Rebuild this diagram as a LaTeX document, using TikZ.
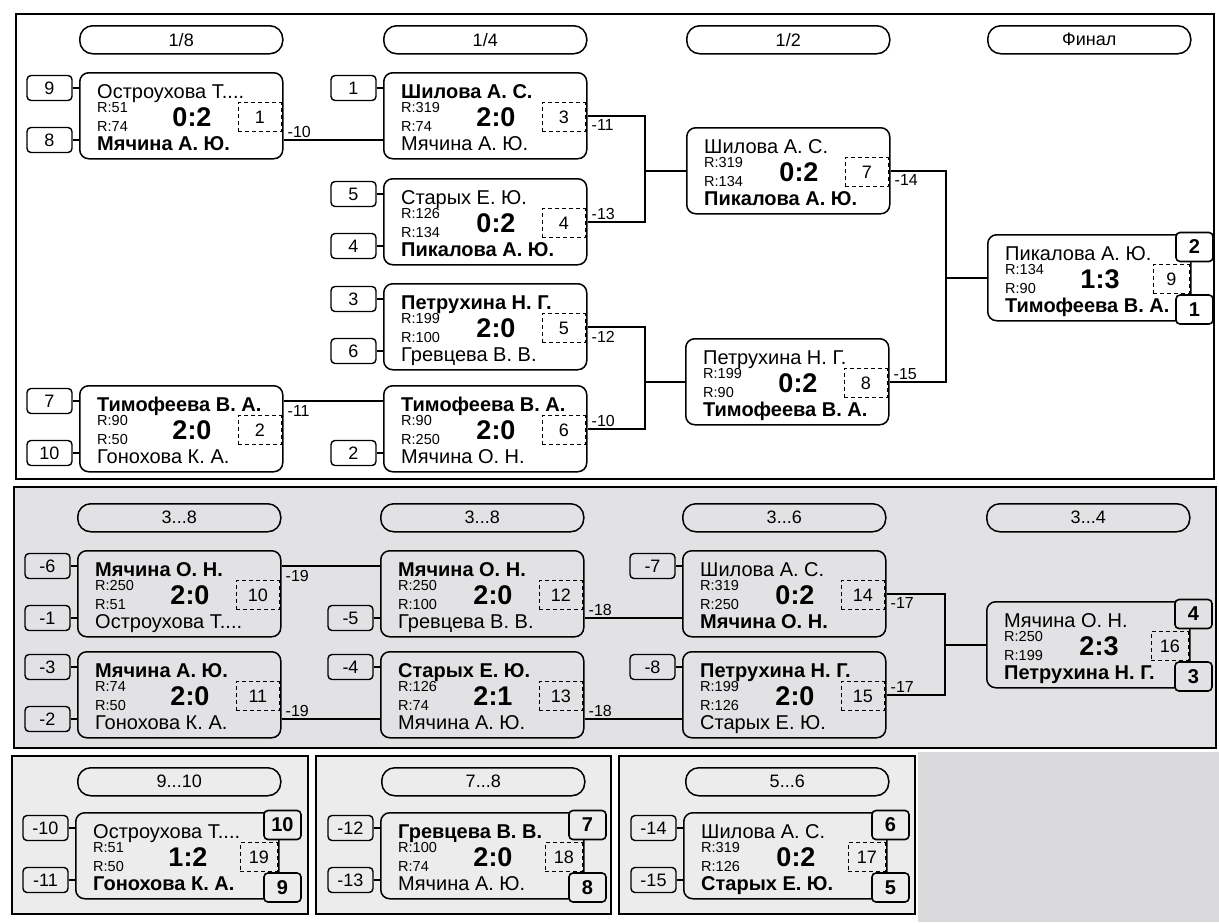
\documentclass[tikz,border=0pt]{standalone}
\usepackage{fontspec}
\setmainfont{Liberation Sans}
\definecolor{sectwo}{HTML}{E2E2E4}
\definecolor{secthree}{HTML}{ECECEC}
\definecolor{outerg}{HTML}{DADADC}
\newcommand\DW{43pt}
\newcommand\BG{white}
\newcommand\MatchBox[9]{%
  \node[mbox] (#1) at (#2,#3) {};
  \begin{scope}[shift={(#2,#3)}]
    \node[nm] (#1a) at (18,26) {#4};
    \node[rt] (#1r) at (18,40) {R:#5};
    \node[rt] (#1q) at (18,59) {R:#6};
    \node[nm] (#1b) at (18,78) {#7};
    \node[sc] (#1c) at (113,54) {#8};
    \node[dbox, minimum width=\DW] (#1d) at (203,30) {#9};
  \end{scope}}
\newcommand\HeadBox[4]{\node[hbox] (#1) at (#2,#3) {#4};}
\newcommand\SeedBox[3]{%
  \node[sbox] (#1s#2) at ([xshift=-29.5pt,yshift=-#2pt]#1.north west) {#3};
  \draw[conn] (#1s#2.east) -- (#1s#2.east -| #1.west);}
\newcommand\PlaceTop[2]{\node[pbox] (#1pt) at ([xshift=3pt,yshift=-13pt]#1.north east) {#2};}
\newcommand\PlaceBot[2]{\node[pbox] (#1pb) at ([xshift=3pt,yshift=12pt]#1.south east) {#2};}
\begin{document}
\begin{tikzpicture}[x=1pt,y=-1pt,
  mbox/.style={draw, line width=1.5pt, rounded corners=9pt, minimum width=203pt, minimum height=86pt, anchor=north west, inner sep=0pt, fill=\BG},
  hbox/.style={draw, line width=1.5pt, rounded corners=13pt, minimum width=203pt, minimum height=28pt, anchor=north west, inner sep=0pt, font=\fontsize{18}{18}\selectfont},
  sbox/.style={draw, line width=1.4pt, rounded corners=4pt, minimum width=45pt, minimum height=25pt, inner sep=0pt, fill=\BG, font=\fontsize{18}{18}\selectfont},
  pbox/.style={draw, line width=1.6pt, rounded corners=4pt, minimum width=37pt, minimum height=29pt, inner sep=0pt, fill=\BG, font=\bfseries\fontsize{20}{20}\selectfont},
  dbox/.style={draw, dash pattern=on 4pt off 3pt, line width=1.3pt, minimum height=29pt, inner sep=0pt, anchor=north east, font=\fontsize{18}{18}\selectfont},
  nm/.style={anchor=base west, inner sep=0pt, font=\fontsize{20}{20}\selectfont},
  rt/.style={anchor=base west, inner sep=0pt, font=\fontsize{14.5}{14.5}\selectfont},
  sc/.style={anchor=base, inner sep=0pt, font=\bfseries\fontsize{27}{27}\selectfont},
  conn/.style={line width=1.5pt},
  lbl/.style={inner sep=0pt, font=\fontsize{16}{16}\selectfont},
  frame/.style={line width=2pt}]
\useasboundingbox (0,0) rectangle (1219,922);
\fill[white] (0,0) rectangle (1219,922);
\fill[outerg] (918,752) rectangle (1219,922);
\draw[frame, fill=white] (16,14) rectangle (1214,479);
\draw[frame, fill=sectwo] (14,487) rectangle (1216,748);
\draw[frame, fill=secthree] (12,756) rectangle (308,914);
\draw[frame, fill=secthree] (316,756) rectangle (611,914);
\draw[frame, fill=secthree] (619,756) rectangle (915,914);

% ---------- top section ----------
\HeadBox{h1}{79}{25}{1/8}
\HeadBox{h2}{383}{25}{1/4}
\HeadBox{h3}{686}{25}{1/2}
\HeadBox{h4}{987}{25}{Финал}

\MatchBox{m1}{79}{72}{Остроухова Т....}{51}{74}{\textbf{Мячина А. Ю.}}{0:2}{1}
\MatchBox{m2}{79}{385}{\textbf{Тимофеева В. А.}}{90}{50}{Гонохова К. А.}{2:0}{2}
\MatchBox{m3}{383}{72}{\textbf{Шилова А. С.}}{319}{74}{Мячина А. Ю.}{2:0}{3}
\MatchBox{m4}{383}{178}{Старых Е. Ю.}{126}{134}{\textbf{Пикалова А. Ю.}}{0:2}{4}
\MatchBox{m5}{383}{283}{\textbf{Петрухина Н. Г.}}{199}{100}{Гревцева В. В.}{2:0}{5}
\MatchBox{m6}{383}{385}{\textbf{Тимофеева В. А.}}{90}{250}{Мячина О. Н.}{2:0}{6}
\MatchBox{m7}{686}{127}{Шилова А. С.}{319}{134}{\textbf{Пикалова А. Ю.}}{0:2}{7}
\MatchBox{m8}{685}{338}{Петрухина Н. Г.}{199}{90}{\textbf{Тимофеева В. А.}}{0:2}{8}
\renewcommand\DW{36pt}
\MatchBox{m9}{987}{234}{Пикалова А. Ю.}{134}{90}{\textbf{Тимофеева В. А.}}{1:3}{9}
\renewcommand\DW{43pt}

\SeedBox{m1}{16}{9}
\SeedBox{m1}{68}{8}
\SeedBox{m2}{16}{7}
\SeedBox{m2}{68}{10}
\SeedBox{m3}{16}{1}
\SeedBox{m4}{16}{5}
\SeedBox{m4}{68}{4}
\SeedBox{m5}{16}{3}
\SeedBox{m5}{68}{6}
\SeedBox{m6}{68}{2}
\PlaceTop{m9}{2}
\PlaceBot{m9}{1}

\coordinate (e1) at ([yshift=-68pt]m1.north east);
\draw[conn] (e1) -- (e1 -| m3.west);
\node[lbl, anchor=south west] (l1) at ([xshift=4pt,yshift=2pt]e1) {-10};
\coordinate (e2) at ([yshift=-16pt]m2.north east);
\draw[conn] (e2) -- (e2 -| m6.west);
\node[lbl, anchor=north west] (l2) at ([xshift=4pt,yshift=-4pt]e2) {-11};

\coordinate (b1) at (645,0);
\draw[conn] (m3.east) -| (b1 |- m4.east) -- (m4.east);
\draw[conn] (b1 |- m7.west) -- (m7.west);
\node[lbl, anchor=north west] (l3) at ([xshift=4pt,yshift=-4pt]m3.east) {-11};
\node[lbl, anchor=south west] (l4) at ([xshift=4pt,yshift=2pt]m4.east) {-13};
\draw[conn] (m5.east) -| (b1 |- m6.east) -- (m6.east);
\draw[conn] (b1 |- m8.west) -- (m8.west);
\node[lbl, anchor=north west] (l5) at ([xshift=4pt,yshift=-4pt]m5.east) {-12};
\node[lbl, anchor=south west] (l6) at ([xshift=4pt,yshift=2pt]m6.east) {-10};

\coordinate (b2) at (946,0);
\draw[conn] (m7.east) -| (b2 |- m8.east) -- (m8.east);
\draw[conn] (b2 |- m9.west) -- (m9.west);
\node[lbl, anchor=north west] (l7) at ([xshift=4pt,yshift=-4pt]m7.east) {-14};
\node[lbl, anchor=south west] (l8) at ([xshift=4pt,yshift=2pt]m8.east) {-15};

% ---------- section 2 ----------
\renewcommand\BG{sectwo}
\HeadBox{h5}{77}{503}{3...8}
\HeadBox{h6}{380}{503}{3...8}
\HeadBox{h7}{682}{503}{3...6}
\HeadBox{h8}{986}{503}{3...4}

\MatchBox{m10}{77}{550}{\textbf{Мячина О. Н.}}{250}{51}{Остроухова Т....}{2:0}{10}
\MatchBox{m11}{77}{651}{\textbf{Мячина А. Ю.}}{74}{50}{Гонохова К. А.}{2:0}{11}
\MatchBox{m12}{380}{550}{\textbf{Мячина О. Н.}}{250}{100}{Гревцева В. В.}{2:0}{12}
\MatchBox{m13}{380}{651}{\textbf{Старых Е. Ю.}}{126}{74}{Мячина А. Ю.}{2:1}{13}
\MatchBox{m14}{682}{550}{Шилова А. С.}{319}{250}{\textbf{Мячина О. Н.}}{0:2}{14}
\MatchBox{m15}{682}{651}{\textbf{Петрухина Н. Г.}}{199}{126}{Старых Е. Ю.}{2:0}{15}
\renewcommand\DW{37pt}
\MatchBox{m16}{986}{601}{Мячина О. Н.}{250}{199}{\textbf{Петрухина Н. Г.}}{2:3}{16}

\SeedBox{m10}{16}{-6}
\SeedBox{m10}{68}{-1}
\SeedBox{m11}{16}{-3}
\SeedBox{m11}{68}{-2}
\SeedBox{m12}{68}{-5}
\SeedBox{m13}{16}{-4}
\SeedBox{m14}{16}{-7}
\SeedBox{m15}{16}{-8}
\PlaceTop{m16}{4}
\PlaceBot{m16}{3}

\coordinate (e10) at ([yshift=-16pt]m10.north east);
\draw[conn] (e10) -- (e10 -| m12.west);
\node[lbl, anchor=north west] (l10) at ([xshift=4pt,yshift=-4pt]e10) {-19};
\coordinate (e11) at ([yshift=-68pt]m11.north east);
\draw[conn] (e11) -- (e11 -| m13.west);
\node[lbl, anchor=south west] (l11) at ([xshift=4pt,yshift=2pt]e11) {-19};
\coordinate (e12) at ([yshift=-68pt]m12.north east);
\draw[conn] (e12) -- (e12 -| m14.west);
\node[lbl, anchor=south west] (l12) at ([xshift=4pt,yshift=2pt]e12) {-18};
\coordinate (e13) at ([yshift=-68pt]m13.north east);
\draw[conn] (e13) -- (e13 -| m15.west);
\node[lbl, anchor=south west] (l13) at ([xshift=4pt,yshift=2pt]e13) {-18};

\coordinate (b3) at (945,0);
\draw[conn] (m14.east) -| (b3 |- m15.east) -- (m15.east);
\draw[conn] (b3 |- m16.west) -- (m16.west);
\node[lbl, anchor=north west] (l14) at ([xshift=4pt,yshift=-4pt]m14.east) {-17};
\node[lbl, anchor=south west] (l15) at ([xshift=4pt,yshift=2pt]m15.east) {-17};

% ---------- bottom row ----------
\renewcommand\BG{secthree}
\HeadBox{h9}{77}{767}{9...10}
\HeadBox{h10}{381}{767}{7...8}
\HeadBox{h11}{685}{767}{5...6}

\MatchBox{m19}{75}{812}{Остроухова Т....}{51}{50}{\textbf{Гонохова К. А.}}{1:2}{19}
\MatchBox{m18}{380}{812}{\textbf{Гревцева В. В.}}{100}{74}{Мячина А. Ю.}{2:0}{18}
\MatchBox{m17}{683}{812}{Шилова А. С.}{319}{126}{\textbf{Старых Е. Ю.}}{0:2}{17}

\SeedBox{m19}{16}{-10}
\SeedBox{m19}{68}{-11}
\SeedBox{m18}{16}{-12}
\SeedBox{m18}{68}{-13}
\SeedBox{m17}{16}{-14}
\SeedBox{m17}{68}{-15}
\PlaceTop{m19}{10}
\PlaceBot{m19}{9}
\PlaceTop{m18}{7}
\PlaceBot{m18}{8}
\PlaceTop{m17}{6}
\PlaceBot{m17}{5}
\end{tikzpicture}
\end{document}
